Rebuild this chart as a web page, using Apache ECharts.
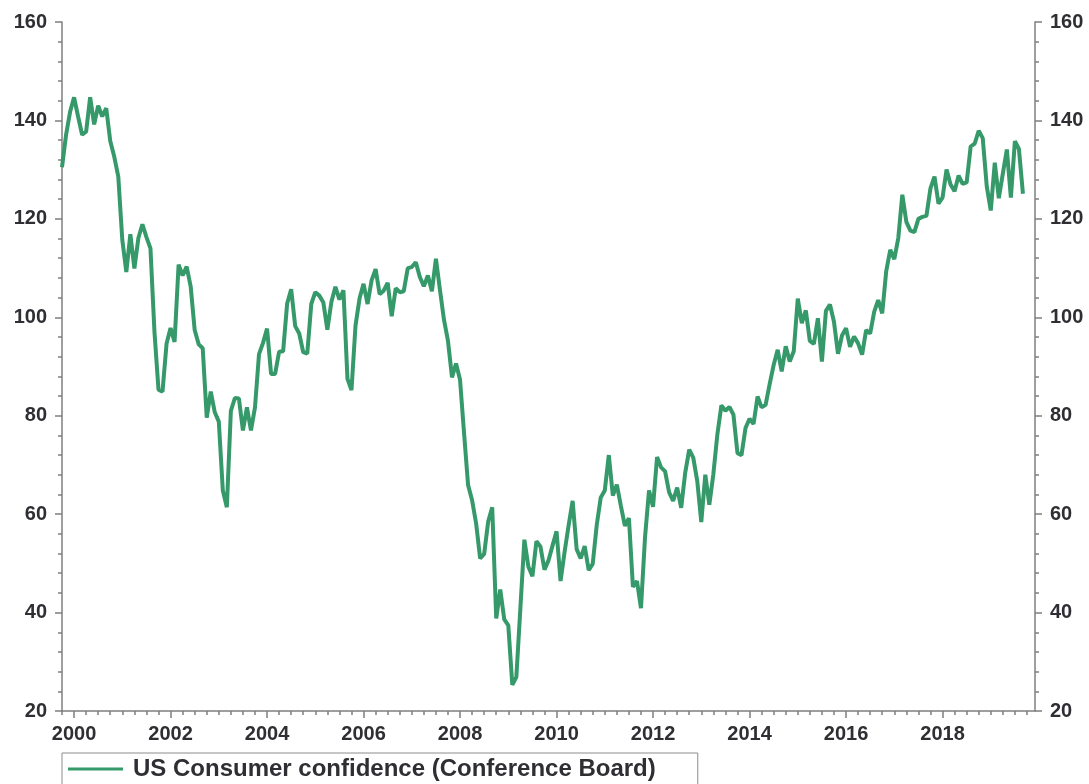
<!DOCTYPE html>
<html>
<head>
<meta charset="utf-8">
<script src="https://cdn.jsdelivr.net/npm/echarts@6/dist/echarts.min.js"></script>
<style>
  html, body { margin: 0; padding: 0; background: #fff; }
  #chart { width: 1089px; height: 784px; }
</style>
</head>
<body>
<div id="chart"></div>
<script>
// monthly index, Oct 1999 .. Sep 2019
const seriesName = 'US Consumer confidence (Conference Board)';
const firstMonth = { year: 1999, month: 10 };
const lastMonth = { year: 2019, month: 12 };   // x axis runs a bit past the data

const conf1999 = [130.5, 137.0, 141.7];
const conf2000 = [144.7, 140.8, 137.1, 137.7, 144.7, 139.2, 143.0, 140.8, 142.5, 135.8, 132.6, 128.6];
const conf2001 = [115.7, 109.2, 116.9, 109.9, 116.1, 118.9, 116.3, 114.0, 97.0, 85.3, 84.9, 94.6];
const conf2002 = [97.8, 95.0, 110.7, 108.5, 110.3, 106.3, 97.4, 94.5, 93.7, 79.6, 84.9, 80.7];
const conf2003 = [78.8, 64.8, 61.4, 81.0, 83.6, 83.5, 77.0, 81.7, 77.0, 81.7, 92.5, 94.8];
const conf2004 = [97.7, 88.5, 88.5, 93.0, 93.1, 102.8, 105.7, 98.2, 96.7, 92.9, 92.6, 102.7];
const conf2005 = [105.1, 104.4, 103.0, 97.5, 103.1, 106.2, 103.6, 105.5, 87.5, 85.2, 98.3, 103.8];
const conf2006 = [106.8, 102.7, 107.5, 109.8, 104.7, 105.4, 107.0, 100.2, 105.9, 105.1, 105.3, 110.0];
const conf2007 = [110.2, 111.2, 108.2, 106.3, 108.5, 105.3, 111.9, 105.6, 99.5, 95.2, 87.8, 90.6];
const conf2008 = [87.3, 76.4, 65.9, 62.8, 58.1, 51.0, 51.9, 58.5, 61.4, 38.8, 44.7, 38.6];
const conf2009 = [37.4, 25.3, 26.9, 40.8, 54.8, 49.3, 47.4, 54.5, 53.4, 48.7, 50.6, 53.6];
const conf2010 = [56.5, 46.4, 52.3, 57.7, 62.7, 52.9, 51.0, 53.5, 48.6, 49.9, 57.8, 63.4];
const conf2011 = [64.8, 72.0, 63.8, 66.0, 61.7, 57.6, 59.2, 45.2, 46.4, 40.9, 55.2, 64.8];
const conf2012 = [61.5, 71.6, 69.5, 68.7, 64.4, 62.7, 65.4, 61.3, 68.4, 73.1, 71.5, 66.7];
const conf2013 = [58.4, 68.0, 61.9, 68.1, 76.2, 82.1, 81.0, 81.8, 80.2, 72.4, 72.0, 77.5];
const conf2014 = [79.4, 78.3, 83.9, 81.7, 82.2, 86.4, 90.3, 93.4, 89.0, 94.1, 91.0, 93.1];
const conf2015 = [103.8, 98.8, 101.4, 95.2, 94.6, 99.8, 91.0, 101.3, 102.6, 99.1, 92.6, 96.3];
const conf2016 = [97.8, 94.0, 96.1, 94.7, 92.4, 97.4, 96.7, 101.1, 103.5, 100.8, 109.4, 113.7];
const conf2017 = [111.8, 116.1, 124.9, 119.4, 117.6, 117.3, 120.0, 120.4, 120.6, 126.2, 128.6, 123.1];
const conf2018 = [124.3, 130.0, 127.0, 125.6, 128.8, 127.1, 127.4, 134.7, 135.3, 137.9, 136.4, 126.6];
const conf2019 = [121.7, 131.4, 124.2, 129.2, 134.1, 124.3, 135.8, 134.2, 125.1];

const confidence = [].concat(
  conf1999, conf2000, conf2001, conf2002, conf2003, conf2004, conf2005,
  conf2006, conf2007, conf2008, conf2009, conf2010, conf2011, conf2012,
  conf2013, conf2014, conf2015, conf2016, conf2017, conf2018, conf2019
);

// month categories "YYYY-MM"
const months = [];
for (let y = firstMonth.year, m = firstMonth.month;
     y < lastMonth.year || (y === lastMonth.year && m <= lastMonth.month); ) {
  months.push(y + '-' + String(m).padStart(2, '0'));
  m++;
  if (m > 12) { m = 1; y++; }
}

const isQuarter = (i, v) => ['01', '04', '07', '10'].includes(v.slice(5));
const isEvenJan = (i, v) => v.slice(5) === '01' && (+v.slice(0, 4)) % 2 === 0;

const axisGrey = '#7f7f7f';
const labelStyle = {
  color: '#2e2e33',
  fontFamily: 'Liberation Sans, Arial, sans-serif',
  fontWeight: 'bold',
  fontSize: 20
};

function yAxis(position) {
  return {
    type: 'value',
    position,
    min: 20,
    max: 160,
    interval: 20,
    axisLine: { show: true, lineStyle: { color: axisGrey, width: 1.5 } },
    axisTick: { show: true, length: 7, lineStyle: { color: axisGrey, width: 1.5 } },
    minorTick: { show: true, splitNumber: 5, length: 4, lineStyle: { color: axisGrey, width: 1.5 } },
    splitLine: { show: false },
    axisLabel: Object.assign({ margin: 15 }, labelStyle)
  };
}

const chart = echarts.init(document.getElementById('chart'));

chart.setOption({
  animation: false,
  backgroundColor: '#fff',
  grid: { left: 62, right: 54, top: 22, bottom: 73 },
  legend: {
    left: 62,
    top: 753,
    data: [{ name: seriesName, icon: 'rect' }],
    itemWidth: 55,
    itemHeight: 3,
    borderColor: '#8c8c8c',
    borderWidth: 1,
    borderRadius: 0,
    padding: [4, 42, 30, 6],
    textStyle: {
      color: '#2e2e33',
      fontFamily: 'Liberation Sans, Arial, sans-serif',
      fontWeight: 'bold',
      fontSize: 24,
      padding: [0, 0, 0, 5]
    }
  },
  xAxis: [
    {
      type: 'category',
      data: months,
      boundaryGap: false,
      position: 'bottom',
      axisLine: { show: true, lineStyle: { color: axisGrey, width: 1.5 } },
      axisTick: { show: true, interval: isQuarter, length: 4, lineStyle: { color: axisGrey, width: 1.5 } },
      axisLabel: { show: false },
      splitLine: { show: false }
    },
    {
      type: 'category',
      data: months,
      boundaryGap: false,
      position: 'bottom',
      axisLine: { show: false },
      axisTick: { show: true, interval: isEvenJan, length: 7, lineStyle: { color: axisGrey, width: 1.5 } },
      axisLabel: Object.assign({
        interval: isEvenJan,
        margin: 13,
        formatter: v => v.slice(0, 4)
      }, labelStyle),
      splitLine: { show: false }
    }
  ],
  yAxis: [yAxis('left'), yAxis('right')],
  series: [
    {
      name: seriesName,
      type: 'line',
      xAxisIndex: 0,
      yAxisIndex: 0,
      data: confidence,
      symbol: 'none',
      color: '#35996a',
      lineStyle: { width: 4, color: '#35996a' }
    }
  ]
});
</script>
</body>
</html>
